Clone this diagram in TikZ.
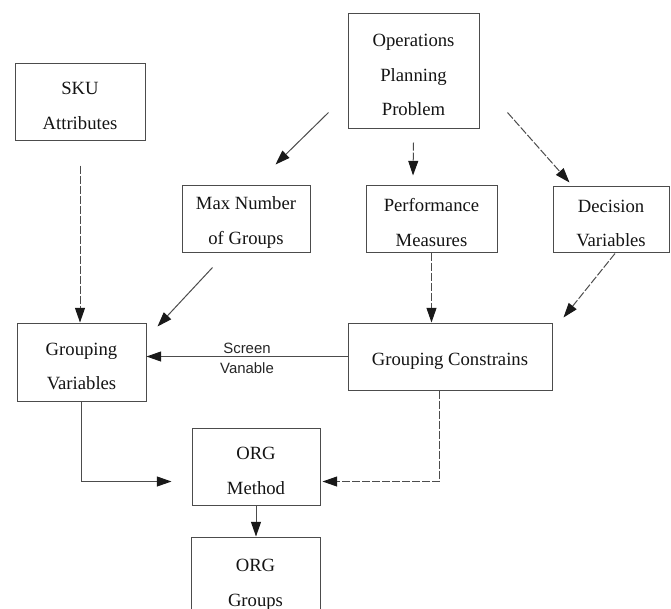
\documentclass[tikz,border=0pt]{standalone}
\usepackage{fontspec}
\setmainfont{Liberation Serif}
\newfontfamily\lblfont{Liberation Sans}
\usetikzlibrary{arrows.meta,calc}
\newcommand\tup{\rule{0pt}{16pt}}
\begin{document}
\begin{tikzpicture}[x=0.75pt,y=-0.75pt,
  box/.style={draw=black!70,line width=0.75pt,inner sep=0pt,align=center,
    text=black!92,font={\fontsize{14}{26}\selectfont}},
  arr/.style={draw=black!70,line width=0.75pt,
    -{Triangle[length=11pt,width=7.5pt,color=black!90]}},
  darr/.style={arr,dash pattern=on 6pt off 1.5pt},
  lbl/.style={align=center,text=black!85,inner sep=0pt,
    font={\lblfont\fontsize{11.2}{15}\selectfont}}]
\clip (0,0) rectangle (671,608);
\fill[white] (0,0) rectangle (671,608);

\node[box,minimum width=131*0.75pt,minimum height=115*0.75pt] (ops) at (413.5,70.5) {\tup Operations\\Planning\\Problem};
\node[box,minimum width=130*0.75pt,minimum height=77*0.75pt] (sku) at (80,101.5) {\tup SKU\\Attributes};
\node[box,minimum width=128*0.75pt,minimum height=67*0.75pt] (max) at (246,218.5) {\tup Max Number\\of Groups};
\node[box,minimum width=131*0.75pt,minimum height=67*0.75pt] (perf) at (431.5,218.5) {\tup Performance\\Measures};
\node[box,minimum width=116*0.75pt,minimum height=66*0.75pt] (dec) at (611,219) {\tup Decision\\Variables};
\node[box,minimum width=129*0.75pt,minimum height=78*0.75pt] (gv) at (81.5,362) {\tup Grouping\\Variables};
\node[box,minimum width=204*0.75pt,minimum height=67*0.75pt] (gc) at (450,356.5) {\tup Grouping Constrains};
\node[box,minimum width=128*0.75pt,minimum height=77*0.75pt] (orgm) at (256,466.5) {\tup ORG\\Method};
\node[box,minimum width=129*0.75pt,minimum height=86*0.75pt] (orgg) at (255.5,580) {\tup ORG\\Groups};

\node[lbl] (scr) at (247,358) {Screen\\[0pt]Vanable};

% connectors
\draw[arr] ([shift={(-19,-16)}]ops.south west) -- ([shift={(94,-20)}]max.north west);
\draw[darr] ([shift={(0,14)}]ops.south) -- ([shift={(-18.5,-9)}]perf.north);
\draw[darr] ([shift={(28,-16)}]ops.south east) -- ([shift={(17,-3)}]dec.north west);
\draw[darr] ([shift={(0,25)}]sku.south) -- (sku.south |- gv.north);
\draw[arr] ([shift={(31,15)}]max.south west) -- ([shift={(11,4)}]gv.north east);
\draw[darr] (perf.south) -- (perf.south |- gc.north);
\draw[darr] ([shift={(4,1)}]dec.south) -- ([shift={(11,-5)}]gc.north east);
\draw[arr] (gc.west) -- (gc.west -| gv.east);
\draw[arr] (gv.south) |- ([shift={(-20,15)}]orgm.west);
\draw[darr] ([shift={(-11,0)}]gc.south) |- ([shift={(2,15)}]orgm.east);
\draw[arr] (orgm.south) -- (orgm.south |- orgg.north);
\end{tikzpicture}
\end{document}
